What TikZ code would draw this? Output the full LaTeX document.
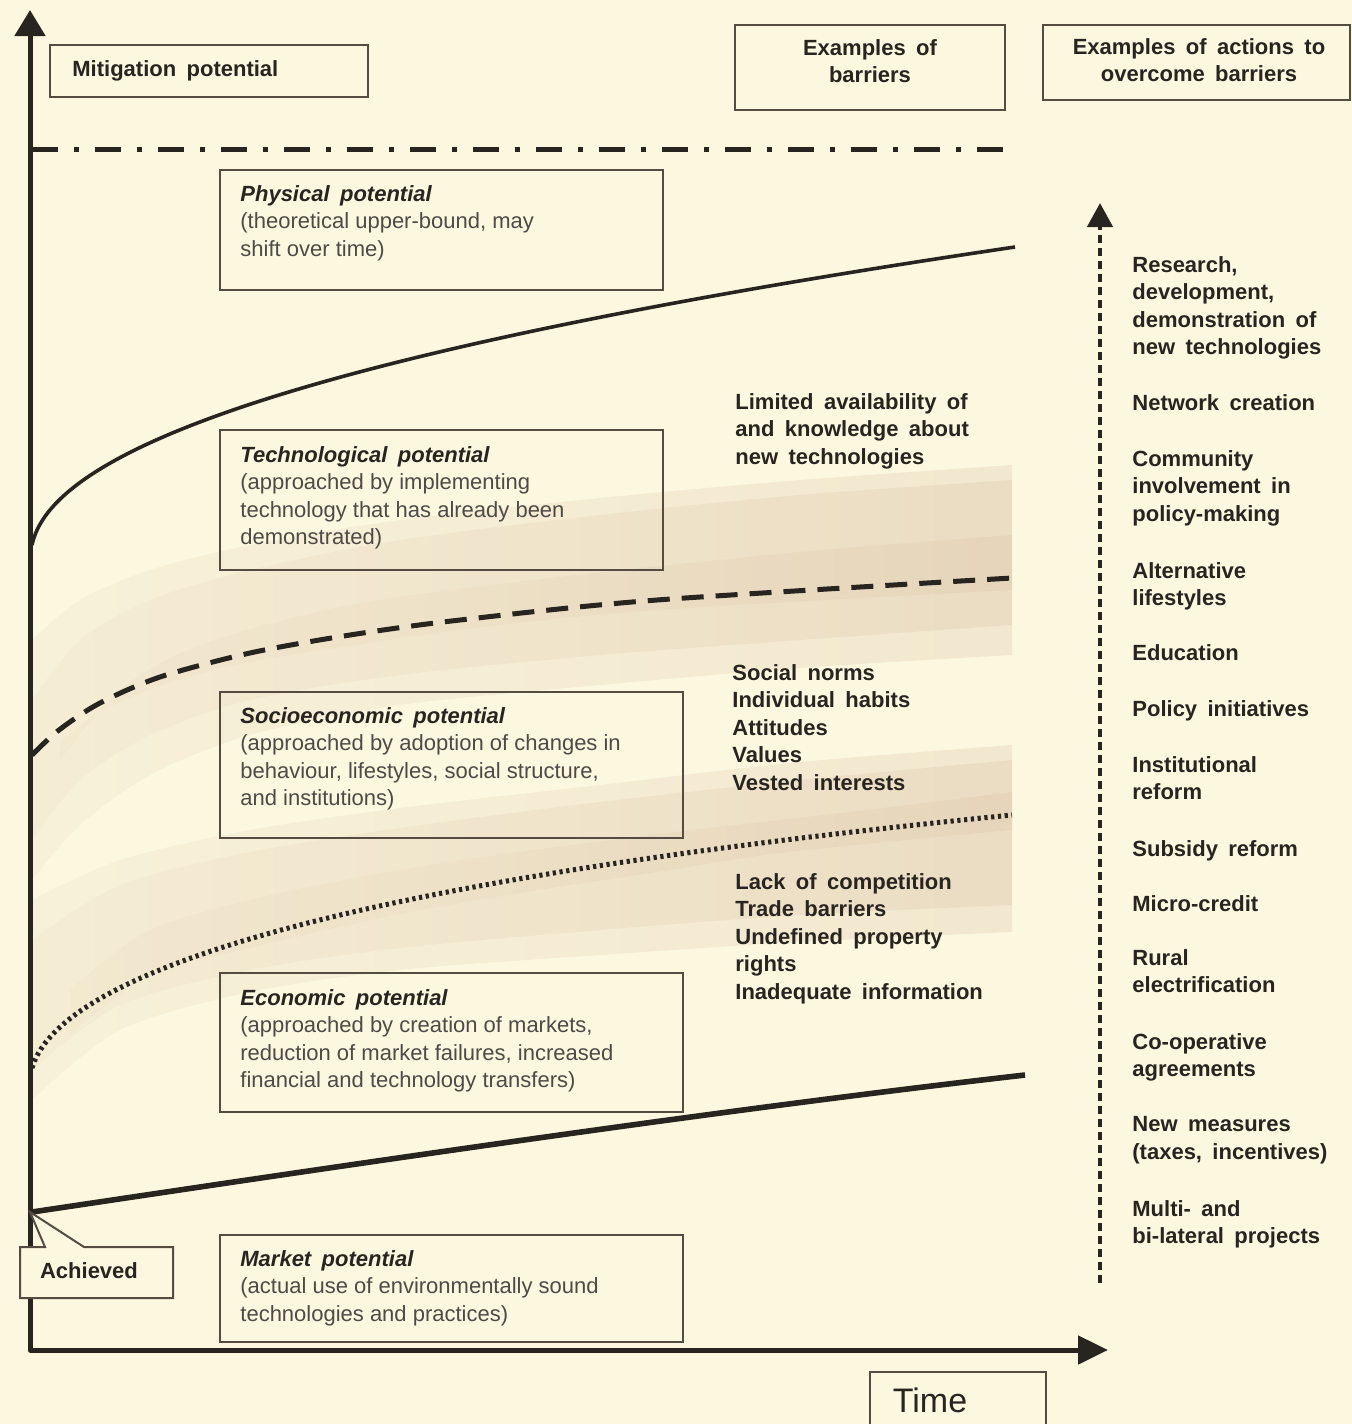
\documentclass[tikz,border=0pt]{standalone}
\usepackage{fontspec}
\setmainfont{Liberation Sans}
\newfontfamily\wfont[WordSpace=1.7]{Liberation Sans}
\usetikzlibrary{arrows.meta}
\definecolor{bg}{RGB}{252,248,224}
\definecolor{tanc}{RGB}{220,196,168}
\definecolor{ink}{RGB}{40,36,32}
\definecolor{boxc}{RGB}{85,75,65}
\definecolor{bodyc}{RGB}{78,74,70}
\tikzset{
  boxline/.style={draw=boxc, line width=1pt},
  lbl/.style={anchor=north west, inner sep=0pt, align=left, text=ink,
    font=\wfont\bfseries\fontsize{11}{13.75}\selectfont},
  body/.style={anchor=north west, inner sep=0pt, align=left, text=bodyc,
    font=\fontsize{11}{13.75}\selectfont},
  curve/.style={draw=ink, line width=2.5pt},
  band/.style={left color=tanc!40!bg, right color=tanc, opacity=0.3},
}
\newcommand{\ttl}[1]{{\color{ink}\wfont\bfseries\itshape #1}}
\begin{document}
\begin{tikzpicture}[x=0.5pt,y=-0.5pt]
\clip (0,0) rectangle (1352,1424);
\fill[bg] (0,0) rectangle (1352,1424);

% shaded band around the dashed curve
\shade[band]
  plot[smooth] coordinates {(32,640) (80,600) (150,570) (250,545) (400,520) (600,498) (800,480) (1012,465)}
  -- plot[smooth] coordinates {(1012,655) (800,668) (600,685) (400,705) (250,735) (150,775) (80,825) (32,880)} -- cycle;
\shade[band]
  plot[smooth] coordinates {(32,700) (80,640) (150,600) (250,570) (400,540) (600,515) (800,495) (1012,480)}
  -- plot[smooth] coordinates {(1012,625) (800,640) (600,655) (400,675) (250,700) (150,735) (80,780) (32,840)} -- cycle;
\shade[band]
  plot[smooth] coordinates {(60,760) (120,690) (200,645) (350,605) (550,578) (800,552) (1012,535)}
  -- plot[smooth] coordinates {(1012,590) (657,610) (460,630) (250,662) (160,686) (100,712) (60,742)} -- cycle;

% shaded band around the dotted curve
\shade[band]
  plot[smooth] coordinates {(32,900) (120,860) (250,830) (400,808) (600,785) (800,762) (1012,745)}
  -- plot[smooth] coordinates {(1012,932) (800,942) (600,955) (400,970) (250,992) (120,1030) (32,1100)} -- cycle;
\shade[band]
  plot[smooth] coordinates {(32,940) (120,885) (250,852) (400,828) (600,802) (800,780) (1012,760)}
  -- plot[smooth] coordinates {(1012,905) (800,915) (600,930) (400,948) (250,970) (120,1005) (32,1070)} -- cycle;
\shade[band]
  plot[smooth] coordinates {(70,990) (150,930) (280,893) (450,862) (650,835) (850,812) (1012,792)}
  -- plot[smooth] coordinates {(1012,830) (788,852) (657,872) (526,892) (394,915) (263,945) (150,975) (70,1035)} -- cycle;

% curves
\draw[curve, line width=1.8pt] (32,545) .. controls (50,460) and (250,360) .. (1015,247);
\draw[curve, dash pattern=on 11pt off 6pt] plot[smooth] coordinates {(32,755) (59,730) (100,703) (160,677) (250,653) (350,635) (460,620) (657,600) (1012,578)};
\draw[curve, dash pattern=on 1.6pt off 1.8pt] (32,1068) .. controls (55,990) and (250,890) .. (1012,815);
\draw[curve, line width=2.8pt] (32,1212) .. controls (300,1172) and (700,1112) .. (1025,1075);
\draw[curve, dash pattern=on 13pt off 8pt on 2.5pt off 8pt] (32,149) -- (1012,149);

% axes
\coordinate (O) at (30,1350);
\coordinate (ytip) at (30,10);
\coordinate (xtip) at (1108,1350);
\draw[draw=ink, line width=2.5pt, line join=round,
  {Triangle[length=15pt,width=14pt]}-{Triangle[length=13pt,width=15pt]}] (xtip) -- (O) -- (ytip);

% right dashed arrow
\coordinate (rbot) at (1100,1283);
\coordinate (rtop) at (1100,203);
\draw[draw=ink, line width=2.2pt, dash pattern=on 4pt off 2.5pt,
  -{Triangle[length=12pt,width=12.5pt]}] (rbot) -- (rtop);

% header boxes
\draw[boxline] (50,45) rectangle (368,97);
\node[lbl] (mit) at (72,60) {Mitigation potential};
\draw[boxline] (735,25) rectangle (1005,110);
\node[lbl, anchor=north, align=center] (exb) at (870,39) {Examples of\\barriers};
\draw[boxline] (1043,25) rectangle (1350,100);
\node[lbl, anchor=north, align=center] (exa) at (1199,38) {Examples of actions to\\overcome barriers};

% potential boxes
\draw[boxline] (220,170) rectangle (663,290);
\node[body] (phys) at (240,185) {\ttl{Physical potential}\\(theoretical upper-bound, may\\shift over time)};
\draw[boxline] (220,430) rectangle (663,570);
\node[body] (tech) at (240,446) {\ttl{Technological potential}\\(approached by implementing\\technology that has already been\\demonstrated)};
\draw[boxline] (220,692) rectangle (683,838);
\node[body] (socio) at (240,707) {\ttl{Socioeconomic potential}\\(approached by adoption of changes in\\behaviour, lifestyles, social structure,\\and institutions)};
\draw[boxline] (220,973) rectangle (683,1112);
\node[body] (econ) at (240,989) {\ttl{Economic potential}\\(approached by creation of markets,\\reduction of market failures, increased\\financial and technology transfers)};
\draw[boxline] (220,1235) rectangle (683,1342);
\node[body] (mark) at (240,1250) {\ttl{Market potential}\\(actual use of environmentally sound\\technologies and practices)};

% achieved callout
\coordinate (ach) at (30,1212);
\draw[boxline, fill=bg, line join=miter] (20,1247) -- (45,1247) -- (ach) -- (84,1247) -- (173,1247) -- (173,1298) -- (20,1298) -- cycle;
\node[lbl, anchor=center] (achT) at (89,1271) {Achieved};

% time box
\draw[boxline] (870,1430) -- (870,1372) -- (1046,1372) -- (1046,1430);
\node[anchor=center, inner sep=0pt, text=ink, font=\fontsize{17}{20}\selectfont] (time) at (930,1400) {Time};

% barriers
\node[lbl] (bar1) at (735,393) {Limited availability of\\and knowledge about\\new technologies};
\node[lbl] (bar2) at (732,664) {Social norms\\Individual habits\\Attitudes\\Values\\Vested interests};
\node[lbl] (bar3) at (735,873) {Lack of competition\\Trade barriers\\Undefined property\\rights\\Inadequate information};

% actions
\node[lbl] (a1) at (1132,256) {Research,\\development,\\demonstration of\\new technologies};
\node[lbl] (a2) at (1132,394) {Network creation};
\node[lbl] (a3) at (1132,450) {Community\\involvement in\\policy-making};
\node[lbl] (a4) at (1132,562) {Alternative\\lifestyles};
\node[lbl] (a5) at (1132,644) {Education};
\node[lbl] (a6) at (1132,700) {Policy initiatives};
\node[lbl] (a7) at (1132,756) {Institutional\\reform};
\node[lbl] (a8) at (1132,840) {Subsidy reform};
\node[lbl] (a9) at (1132,895) {Micro-credit};
\node[lbl] (a10) at (1132,949) {Rural\\electrification};
\node[lbl] (a11) at (1132,1033) {Co-operative\\agreements};
\node[lbl] (a12) at (1132,1116) {New measures\\(taxes, incentives)};
\node[lbl] (a13) at (1132,1200) {Multi- and\\bi-lateral projects};
\end{tikzpicture}
\end{document}
